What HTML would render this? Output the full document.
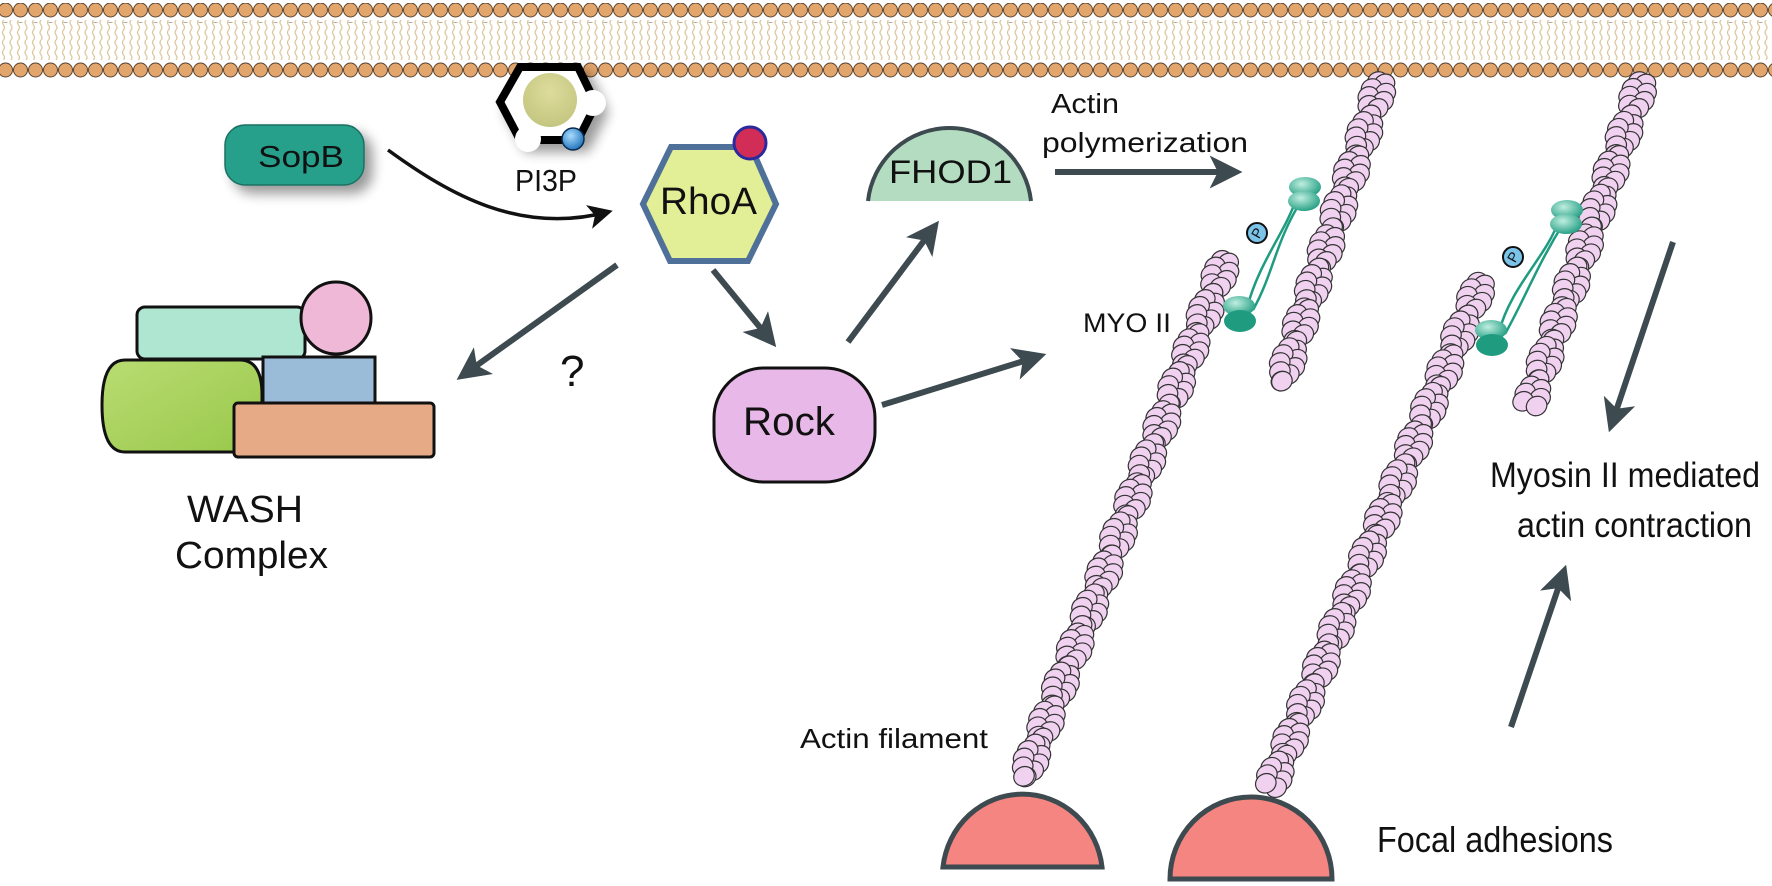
<!DOCTYPE html>
<html><head><meta charset="utf-8">
<style>
html,body{margin:0;padding:0;background:#fff;}
svg{display:block;}
text{font-family:"Liberation Sans",sans-serif;fill:#111;}
</style></head>
<body>
<svg id="s" width="1772" height="886" viewBox="0 0 1772 886" xmlns="http://www.w3.org/2000/svg">
<defs>
<pattern id="tails" x="0" y="0" width="7.5" height="40" patternUnits="userSpaceOnUse">
<path d="M3.5 0 q-2 2.5 0 5 q2 2.5 0 5 q-2 2.5 0 5 q2 2.5 0 5 M3.5 20 q-2 2.5 0 5 q2 2.5 0 5 q-2 2.5 0 5 q2 2.5 0 5" fill="none" stroke="#dcc9a0" stroke-width="1.3"/>
</pattern>
<pattern id="heads" x="-2" y="0" width="15" height="20" patternUnits="userSpaceOnUse">
<circle cx="7.5" cy="10" r="7" fill="#e2a66c" stroke="#5a4330" stroke-width="1"/>
</pattern>
<linearGradient id="gg" x1="0" y1="0" x2="1" y2="1"><stop offset="0" stop-color="#b9dc72"/><stop offset="1" stop-color="#98c84a"/></linearGradient>
<radialGradient id="th" cx="0.4" cy="0.35" r="0.7"><stop offset="0" stop-color="#bfeee0"/><stop offset="1" stop-color="#1f9c80"/></radialGradient>
<radialGradient id="bl" cx="0.4" cy="0.35" r="0.7"><stop offset="0" stop-color="#a8dcff"/><stop offset="1" stop-color="#1a6fb8"/></radialGradient>
<radialGradient id="yc" cx="0.5" cy="0.35" r="0.7"><stop offset="0" stop-color="#dedc9c"/><stop offset="1" stop-color="#c2c47e"/></radialGradient>
<filter id="sh" x="-30%" y="-30%" width="170%" height="170%"><feGaussianBlur in="SourceAlpha" stdDeviation="6"/><feOffset dx="8" dy="8"/><feComponentTransfer><feFuncA type="linear" slope="0.4"/></feComponentTransfer><feMerge><feMergeNode/><feMergeNode in="SourceGraphic"/></feMerge></filter>
<marker id="ah" viewBox="0 0 10 10" refX="8" refY="5" markerWidth="5.5" markerHeight="5.5" orient="auto" markerUnits="strokeWidth"><path d="M0 0 L10 5 L0 10 L2.5 5 Z" fill="#3d4a50"/></marker>
<marker id="ahb" viewBox="0 0 10 10" refX="8" refY="5" markerWidth="7" markerHeight="7" orient="auto" markerUnits="strokeWidth"><path d="M0 0 L10 5 L0 10 L2.5 5 Z" fill="#111"/></marker>
</defs>

<rect x="0" y="20" width="1772" height="40" fill="url(#tails)"/>
<rect x="0" y="3" width="1772" height="20" fill="url(#heads)"/>
<rect x="0" y="58" width="1772" height="20" fill="url(#heads)"/>

<g filter="url(#sh)">
<polygon points="500,102 520,67 578,67 596,104 578,140 520,140" fill="#fff" stroke="#000" stroke-width="8" stroke-linejoin="miter"/>
</g>
<circle cx="550" cy="100" r="27" fill="url(#yc)"/>
<circle cx="593" cy="103" r="13" fill="#fff"/>
<circle cx="528" cy="139" r="13" fill="#fff"/>
<circle cx="573" cy="139" r="11" fill="url(#bl)" stroke="#0a2a50" stroke-width="1.5"/>
<text x="515" y="191" font-size="31" textLength="62" lengthAdjust="spacingAndGlyphs">PI3P</text>

<rect x="225" y="125" width="139" height="60" rx="20" fill="#26a08b" stroke="#1d6f62" stroke-width="1.5" filter="url(#sh)"/>
<text x="258" y="167" font-size="31" textLength="86" lengthAdjust="spacingAndGlyphs">SopB</text>
<path d="M388 150 C450 195 520 235 608 212" fill="none" stroke="#111" stroke-width="3.5" marker-end="url(#ahb)"/>

<polygon points="643,204 671,147 751,147 776,204 748,261 670,261" fill="#e3ef96" stroke="#4f7199" stroke-width="6"/>
<circle cx="750" cy="143" r="16" fill="#d12d57" stroke="#2a2a9e" stroke-width="3"/>
<text x="660" y="214" font-size="38" textLength="97" lengthAdjust="spacingAndGlyphs">RhoA</text>

<path d="M868 201 A82 82 0 0 1 1031 201 Z" fill="#b3dcc0"/>
<path d="M868 201 A82 82 0 0 1 1031 201" fill="none" stroke="#3d4a4f" stroke-width="4"/>
<text x="889" y="183" font-size="32" textLength="123" lengthAdjust="spacingAndGlyphs">FHOD1</text>

<rect x="714" y="368" width="161" height="114" rx="50" fill="#e8b8e8" stroke="#111" stroke-width="3"/>
<text x="743" y="435" font-size="40" textLength="92" lengthAdjust="spacingAndGlyphs">Rock</text>

<g stroke="#3d4a50" stroke-width="6" fill="none" marker-end="url(#ah)">
<line x1="713" y1="270" x2="772" y2="342"/>
<line x1="848" y1="342" x2="935" y2="226"/>
<line x1="882" y1="405" x2="1040" y2="356"/>
<line x1="617" y1="265" x2="462" y2="376"/>
<line x1="1055" y1="172" x2="1236" y2="172"/>
<line x1="1673" y1="242" x2="1611" y2="426"/>
<line x1="1511" y1="727" x2="1564" y2="571"/>
</g>
<text x="560" y="386" font-size="44">?</text>

<rect x="137" y="307" width="168" height="52" rx="8" fill="#aee6d2" stroke="#111" stroke-width="3"/>
<ellipse cx="336" cy="318" rx="35" ry="36" fill="#efb8d6" stroke="#111" stroke-width="3"/>
<path d="M125 360 L240 360 Q262 360 262 395 L262 452 L125 452 Q102 452 102 405 Q102 360 125 360 Z" fill="url(#gg)" stroke="#111" stroke-width="3"/>
<rect x="263" y="357" width="112" height="46" fill="#9bbcd9" stroke="#111" stroke-width="3"/>
<rect x="234" y="403" width="200" height="54" rx="4" fill="#e6ab86" stroke="#111" stroke-width="3"/>
<text x="187" y="522" font-size="38" textLength="116" lengthAdjust="spacingAndGlyphs">WASH</text>
<text x="175" y="568" font-size="38" textLength="153" lengthAdjust="spacingAndGlyphs">Complex</text>

<text x="1051" y="113" font-size="28" textLength="68" lengthAdjust="spacingAndGlyphs">Actin</text>
<text x="1042" y="152" font-size="28" textLength="206" lengthAdjust="spacingAndGlyphs">polymerization</text>
<text x="1083" y="332" font-size="27" textLength="88" lengthAdjust="spacingAndGlyphs">MYO II</text>
<text x="800" y="748" font-size="28" textLength="188" lengthAdjust="spacingAndGlyphs">Actin filament</text>
<text x="1377" y="852" font-size="36" textLength="236" lengthAdjust="spacingAndGlyphs">Focal adhesions</text>
<text x="1490" y="487" font-size="35" textLength="270" lengthAdjust="spacingAndGlyphs">Myosin II mediated</text>
<text x="1517" y="537" font-size="35" textLength="235" lengthAdjust="spacingAndGlyphs">actin contraction</text>

<g id="fil"></g>

<path d="M943 867 A80 82 0 0 1 1102 867 Z" fill="#f48580" stroke="#3d4a4f" stroke-width="5"/>
<path d="M1170 879 A81 82 0 0 1 1332 879 Z" fill="#f48580" stroke="#3d4a4f" stroke-width="5"/>

<g id="myo"></g>
</svg>
<script>
(function(){
var NS="http://www.w3.org/2000/svg";
var fil=document.getElementById('fil');
function el(tag,attrs,parent){var e=document.createElementNS(NS,tag);for(var k in attrs)e.setAttribute(k,attrs[k]);parent.appendChild(e);return e;}
function filament(ax,ay,bx,by){
  var dx=bx-ax,dy=by-ay,L=Math.sqrt(dx*dx+dy*dy),ux=dx/L,uy=dy/L,nx=-uy,ny=ux;
  for(var s=6;s<=L-4;s+=8.5){
    for(var k=0;k<2;k++){
      var ph=s/80*2*Math.PI+k*Math.PI;
      var o=8*Math.sin(ph);
      var x=ax+ux*s+nx*o,y=ay+uy*s+ny*o;
      el('ellipse',{cx:x.toFixed(1),cy:y.toFixed(1),rx:10.5,ry:9.5,fill:'#f0d2f0',stroke:'#333','stroke-width':1.2,transform:'rotate(-30 '+x.toFixed(1)+' '+y.toFixed(1)+')'},fil);
    }
  }
}
filament(1383,77,1278,392);
filament(1227,256,1022,784);
filament(1644,77,1528,409);
filament(1483,278,1267,795);
var myo=document.getElementById('myo');
function myosin(tx,ty,bx,by,px,py){
  var d='M'+(bx+8)+' '+(by-4)+' C'+(bx+20)+' '+(by-50)+' '+(tx-20)+' '+(ty+40)+' '+(tx-8)+' '+(ty+4);
  el('path',{d:d,fill:'none',stroke:'#1f9c80','stroke-width':2.5},myo);
  var d2='M'+(bx+14)+' '+(by-2)+' C'+(bx+35)+' '+(by-40)+' '+(tx-30)+' '+(ty+50)+' '+(tx-4)+' '+(ty+8);
  el('path',{d:d2,fill:'none',stroke:'#1f9c80','stroke-width':2.5},myo);
  el('ellipse',{cx:tx,cy:ty-6,rx:16,ry:10,fill:'url(#th)'},myo);
  el('ellipse',{cx:tx-1,cy:ty+8,rx:16,ry:10,fill:'url(#th)'},myo);
  el('ellipse',{cx:bx,cy:by-6,rx:16,ry:10,fill:'url(#th)'},myo);
  el('ellipse',{cx:bx+1,cy:by+9,rx:16,ry:11,fill:'#1f9c80'},myo);
  el('circle',{cx:px,cy:py,r:10,fill:'#7bc3e8',stroke:'#111','stroke-width':2},myo);
  var t=el('text',{x:px,y:py+5,'font-size':14,'text-anchor':'middle',transform:'rotate(-60 '+px+' '+py+')'},myo);
  t.textContent='P';
}
myosin(1305,193,1239,312,1257,233);
myosin(1567,216,1491,336,1513,257);
})();
</script>
</body></html>
